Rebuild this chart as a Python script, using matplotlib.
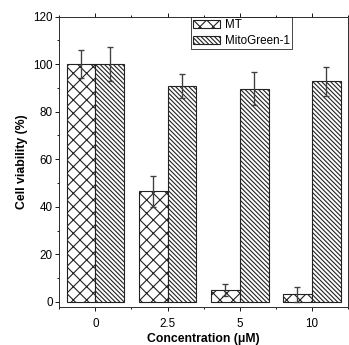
import numpy as np
import matplotlib
matplotlib.use('Agg')
import matplotlib.pyplot as plt
from matplotlib.ticker import MultipleLocator

plt.rcParams['font.family'] = ['Liberation Sans', 'DejaVu Sans']
plt.rcParams['hatch.linewidth'] = 1.0

conc = ['0', '2.5', '5', '10']
mt = [100, 46.5, 5.0, 3.2]
mt_err = [6.0, 6.5, 2.5, 3.1]
mg = [100, 90.7, 89.7, 92.8]
mg_err = [7.0, 5.0, 6.8, 6.2]

fig = plt.figure(figsize=(349/80, 345/80), dpi=80)
ax = fig.add_axes([0.170, 0.111, 0.827, 0.841])

x = np.arange(len(conc))
w = 0.4
ax.bar(x - w/2, mt, w, color='white', edgecolor='#222222', linewidth=1.0,
       hatch='xx', label='MT', zorder=2)
ax.bar(x + w/2, mg, w, color='white', edgecolor='#222222', linewidth=1.0,
       hatch='\\\\\\\\\\\\', label='MitoGreen-1', zorder=2)
ax.errorbar(x - w/2, mt, yerr=mt_err, fmt='none', ecolor='#404040',
            elinewidth=1.2, capsize=3, capthick=1.2, zorder=3)
ax.errorbar(x + w/2, mg, yerr=mg_err, fmt='none', ecolor='#404040',
            elinewidth=1.2, capsize=3, capthick=1.2, zorder=3)

ax.set_xlim(-0.5, 3.5)
ax.set_ylim(-2, 120)
ax.set_xticks(x)
ax.set_xticklabels(conc)
ax.xaxis.set_minor_locator(MultipleLocator(0.5))
ax.yaxis.set_major_locator(MultipleLocator(20))
ax.yaxis.set_minor_locator(MultipleLocator(10))
ax.tick_params(which='major', direction='out', length=4, width=0.8,
               labelsize=10.5, pad=2)
ax.tick_params(which='minor', direction='out', length=2, width=0.8)
ax.tick_params(axis='x', which='major', pad=6)
ax.tick_params(axis='x', which='both', top=True)
ax.tick_params(axis='y', which='both', right=True)
for s in ax.spines.values():
    s.set_linewidth(0.9)
    s.set_color('#333333')

ax.set_xlabel('Concentration (\u03bcM)', fontsize=11, fontweight='bold', labelpad=3)
ax.set_ylabel('Cell viability (%)', fontsize=11, fontweight='bold', labelpad=5)

leg = ax.legend(loc='upper left', bbox_to_anchor=(0.456, 1.0), fontsize=10.5,
                frameon=True, fancybox=False, edgecolor='black',
                borderpad=0.2, borderaxespad=0, handlelength=2.3,
                handleheight=0.7, handletextpad=0.4, labelspacing=0.35)
leg.get_frame().set_linewidth(0.8)

fig.savefig('out.png', dpi=80)
